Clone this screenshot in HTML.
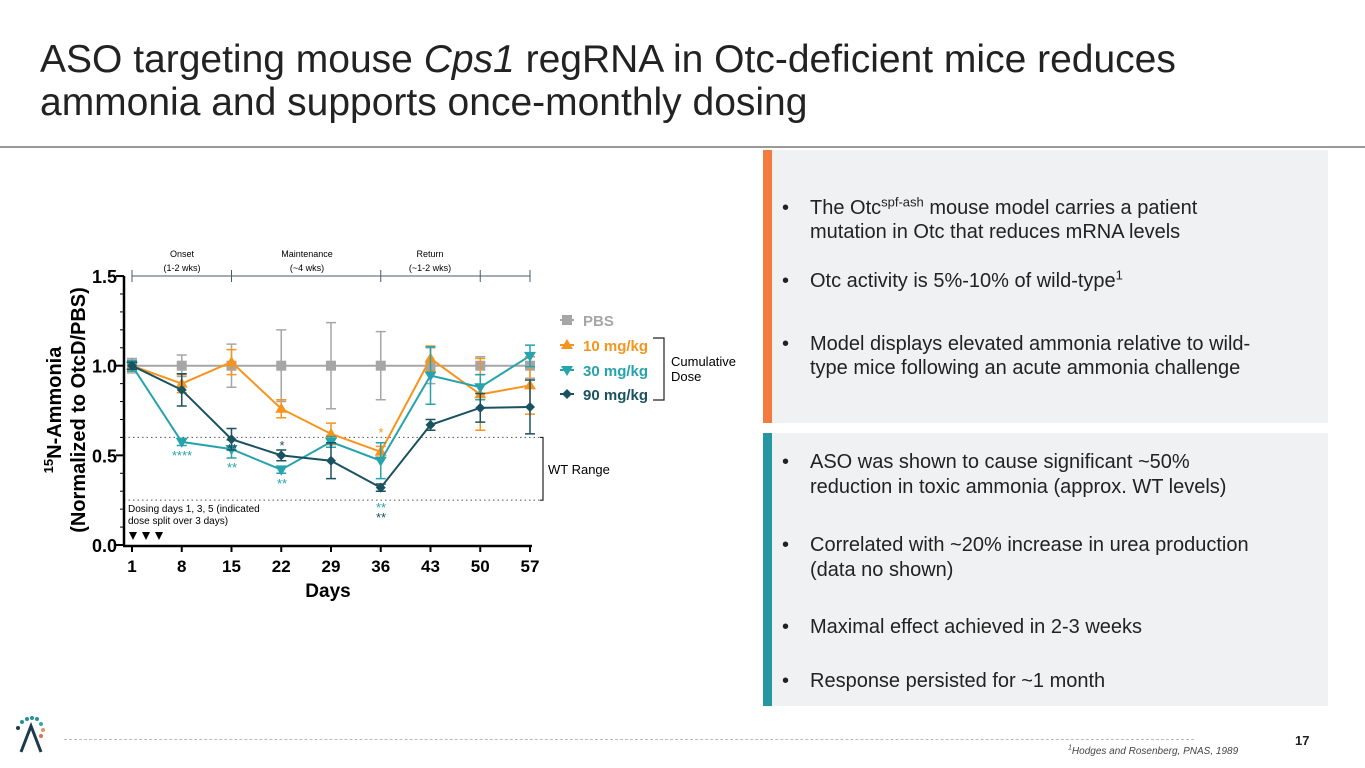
<!DOCTYPE html>
<html><head><meta charset="utf-8"><style>
body{margin:0;width:1365px;height:768px;background:#fff;font-family:"Liberation Sans",Arial,sans-serif;position:relative;overflow:hidden;color:#222}
.title{position:absolute;left:40px;top:38px;font-size:39px;line-height:43px;color:#222;white-space:nowrap}
.rule{position:absolute;left:0;top:146px;width:1365px;height:2px;background:#999}
.panel{position:absolute;left:772px;width:556px;background:#f0f1f2;font-size:20px;line-height:24px;color:#222}
.bar{position:absolute;left:763px;width:9px}
.panel ul{margin:0;padding:0 60px 0 0;list-style:none}
.panel li{position:relative;padding-left:38px}
.panel li:before{content:"•";position:absolute;left:10px}
sup{font-size:13px;line-height:0}
</style></head><body>
<div class="title">ASO targeting mouse <i>Cps1</i> regRNA in Otc-deficient mice reduces<br>ammonia and supports once-monthly dosing</div>
<div class="rule"></div>
<svg id="chart" width="760" height="620" style="position:absolute;left:0;top:148px" viewBox="0 148 760 620"></svg>
<div class="bar" style="top:150px;height:273px;background:#f47b3f"></div>
<div class="panel" style="top:150px;height:273px"><ul style="padding-top:46px">
<li>The Otc<sup>spf-ash</sup> mouse model carries a patient mutation in Otc that reduces mRNA levels</li>
<li style="margin-top:25px">Otc activity is 5%-10% of wild-type<sup>1</sup></li>
<li style="margin-top:39px">Model displays elevated ammonia relative to wild-type mice following an acute ammonia challenge</li></ul></div>
<div class="bar" style="top:433px;height:273px;background:#2696a3"></div>
<div class="panel" style="top:433px;height:273px;line-height:25px"><ul style="padding-top:17px">
<li>ASO was shown to cause significant ~50% reduction in toxic ammonia (approx. WT levels)</li>
<li style="margin-top:33px">Correlated with ~20% increase in urea production (data no shown)</li>
<li style="margin-top:32px">Maximal effect achieved in 2-3 weeks</li>
<li style="margin-top:29px">Response persisted for ~1 month</li></ul></div>
<svg style="position:absolute;left:14px;top:714px" width="36" height="40">
<g fill="#2a8f9a"><circle cx="8" cy="8" r="2"/><circle cx="13" cy="5" r="2"/><circle cx="18" cy="4" r="2"/><circle cx="23" cy="5" r="2"/></g>
<circle cx="4" cy="14" r="2" fill="#1d3a4a"/><circle cx="27" cy="10" r="2" fill="#3aa"/><circle cx="29" cy="16" r="2" fill="#e0956b"/><circle cx="27" cy="22" r="2" fill="#e07050"/>
<path d="M7 38 L17 12 L27 38" stroke="#1d3a4a" stroke-width="3" fill="none"/></svg>
<div style="position:absolute;left:64px;top:739px;width:1130px;border-top:1px dashed #bbb"></div>
<div style="position:absolute;left:1295px;top:733px;font-size:13px;font-weight:bold">17</div>
<div style="position:absolute;left:1068px;top:746px;font-size:10px;font-style:italic;color:#444"><sup style="font-size:7px">1</sup>Hodges and Rosenberg, PNAS, 1989</div>
<script>
const days=[1,8,15,22,29,36,43,50,57];
const pbs=[1,1,1,1,1,1,1,1,1];
const pbsErr=[0.04,0.06,0.12,0.2,0.24,0.19,0.1,0.05,0.07];
const d10=[1,0.9,1.02,0.76,0.62,0.52,1.04,0.84,0.89];
const d10Err=[0.03,0.05,0.07,0.05,0.06,0.03,0.07,0.2,0.16];
const d30=[1,0.575,0.535,0.42,0.575,0.47,0.945,0.88,1.055];
const d30Err=[0.03,0.02,0.05,0.02,0.03,0.1,0.16,0.07,0.06];
const d90=[1,0.865,0.59,0.5,0.47,0.32,0.67,0.765,0.77];
const d90Err=[0.02,0.09,0.06,0.03,0.1,0.02,0.03,0.08,0.15];
const yTicks=[0,0.5,1.0,1.5];
const yTickLabels=["0.0","0.5","1.0","1.5"];
const NS="http://www.w3.org/2000/svg",svg=document.getElementById('chart');
const X=d=>132+(d-1)*(398/56), Y=v=>545-v*179.3;
function el(t,a,name){const e=document.createElementNS(NS,t);for(const k in a)e.setAttribute(k,a[k]);


svg.appendChild(e);return e;}
function txt(x,y,s,attrs,name){const e=el('text',Object.assign({x:x,y:y,'font-family':'Liberation Sans, Arial, sans-serif'},attrs),name);e.textContent=s;return e;}
el('line',{x1:124,x2:540,y1:Y(0.6),y2:Y(0.6),stroke:'#555','stroke-dasharray':'1.5,3'},'wt-upper-line');
el('line',{x1:124,x2:540,y1:Y(0.25),y2:Y(0.25),stroke:'#555','stroke-dasharray':'1.5,3'},'wt-lower-line');
el('path',{d:`M540 ${Y(0.6)} H543 V${Y(0.25)} H540`,stroke:'#222',fill:'none','stroke-width':1.2},'wt-bracket');
txt(548,474,'WT Range',{'font-size':13},'wt-range-label');
el('line',{x1:124,x2:124,y1:Y(1.5),y2:546,stroke:'#000','stroke-width':2.5},'y-axis');
el('line',{x1:123,x2:532,y1:546,y2:546,stroke:'#000','stroke-width':2.5},'x-axis');
yTicks.forEach((v,i)=>{el('line',{x1:116,x2:124,y1:Y(v),y2:Y(v),stroke:'#000','stroke-width':2},'y-tick');
txt(117,Y(v)+7,yTickLabels[i],{'font-size':18,'font-weight':'bold','text-anchor':'end'},'y-tick-label');});
for(let v=0.1;v<1.5;v+=0.1){if(Math.abs(v*2-Math.round(v*2))>0.01)el('line',{x1:120,x2:124,y1:Y(v),y2:Y(v),stroke:'#000'},'y-minor-tick');}
days.forEach(d=>{el('line',{x1:X(d),x2:X(d),y1:546,y2:552,stroke:'#000','stroke-width':2},'x-tick');
txt(X(d),572,String(d),{'font-size':17,'font-weight':'bold','text-anchor':'middle'},'x-tick-label');});
txt(328,597,'Days',{'font-size':19,'font-weight':'bold','text-anchor':'middle'},'x-axis-title');
const yt=txt(0,0,'',{'font-size':20,'font-weight':'bold','text-anchor':'middle',transform:'translate(61,410) rotate(-90)'},'y-axis-title');
yt.innerHTML='<tspan font-size="13" dy="-8">15</tspan><tspan dy="8">N-Ammonia</tspan><tspan x="0" dy="24">(Normalized to OtcD/PBS)</tspan>';
el('line',{x1:X(1),x2:X(57),y1:276,y2:276,stroke:'#4a5a6a'},'phase-line');
[1,15,36,50,57].forEach(d=>el('line',{x1:X(d),x2:X(d),y1:270,y2:282,stroke:'#4a5a6a'},'phase-tick'));
[['Onset','(1-2 wks)',182],['Maintenance','(~4 wks)',307],['Return','(~1-2 wks)',430]].forEach(p=>{
txt(p[2],257,p[0],{'font-size':9,'text-anchor':'middle'},'phase-label');txt(p[2],271,p[1],{'font-size':9,'text-anchor':'middle'},'phase-duration');});
const series=[[pbs,pbsErr,'#a6a6a6','sq','pbs'],[d10,d10Err,'#f7941d','up','10mg'],[d30,d30Err,'#26a3ad','down','30mg'],[d90,d90Err,'#1a5260','dia','90mg']];
function marker(x,y,type,c,name){let d;
if(type==='sq')d=`M${x-5} ${y-5}h10v10h-10z`;else if(type==='up')d=`M${x} ${y-6}L${x+6} ${y+4}L${x-6} ${y+4}z`;
else if(type==='down')d=`M${x} ${y+6}L${x+6} ${y-4}L${x-6} ${y-4}z`;else d=`M${x} ${y-5}L${x+5} ${y}L${x} ${y+5}L${x-5} ${y}z`;
el('path',{d:d,fill:c},name);}
series.forEach(s=>{const [v,e,c,t,n]=s;
v.forEach((val,i)=>{const x=X(days[i]);el('path',{d:`M${x} ${Y(val-e[i])}V${Y(val+e[i])}M${x-5} ${Y(val-e[i])}h10M${x-5} ${Y(val+e[i])}h10`,stroke:c,'stroke-width':1.5,fill:'none'},n+'-error-bar');});
el('polyline',{points:v.map((val,i)=>X(days[i])+','+Y(val)).join(' '),stroke:c,'stroke-width':2,fill:'none'},n+'-line');
v.forEach((val,i)=>marker(X(days[i]),Y(val),t,c,n+'-marker'));});
[[182,'****','#26a3ad',460],[232,'**','#1a5260',453],[232,'**','#26a3ad',472],[282,'*','#1a5260',450],[282,'**','#26a3ad',488],[381,'*','#f7941d',437],[381,'**','#26a3ad',512],[381,'**','#1a5260',522]].forEach(a=>
txt(a[0],a[3],a[1],{'font-size':13,fill:a[2],'text-anchor':'middle'},'significance-stars'));
txt(128,512,'Dosing days 1, 3, 5 (indicated',{'font-size':10},'dosing-note');
txt(128,524,'dose split over 3 days)',{'font-size':10},'dosing-note');
[133,146,159].forEach(x=>el('path',{d:`M${x-4} 532h8l-4 8z`,fill:'#000'},'dose-marker'));
const leg=[['PBS','#a6a6a6','sq',320],['10 mg/kg','#f7941d','up',345],['30 mg/kg','#26a3ad','down',370],['90 mg/kg','#1a5260','dia',394]];
leg.forEach(l=>{el('line',{x1:560,x2:574,y1:l[3],y2:l[3],stroke:l[1],'stroke-width':2},'legend-line');marker(567,l[3],l[2],l[1],'legend-marker');
txt(583,l[3]+6,l[0],{'font-size':15,'font-weight':'bold',fill:l[1]},'legend-label');});
el('path',{d:'M653 338H664V400H653',stroke:'#222',fill:'none','stroke-width':1.2},'legend-bracket');
txt(671,366,'Cumulative',{'font-size':13},'legend-group-label');txt(671,381,'Dose',{'font-size':13},'legend-group-label');
</script>
</body></html>
